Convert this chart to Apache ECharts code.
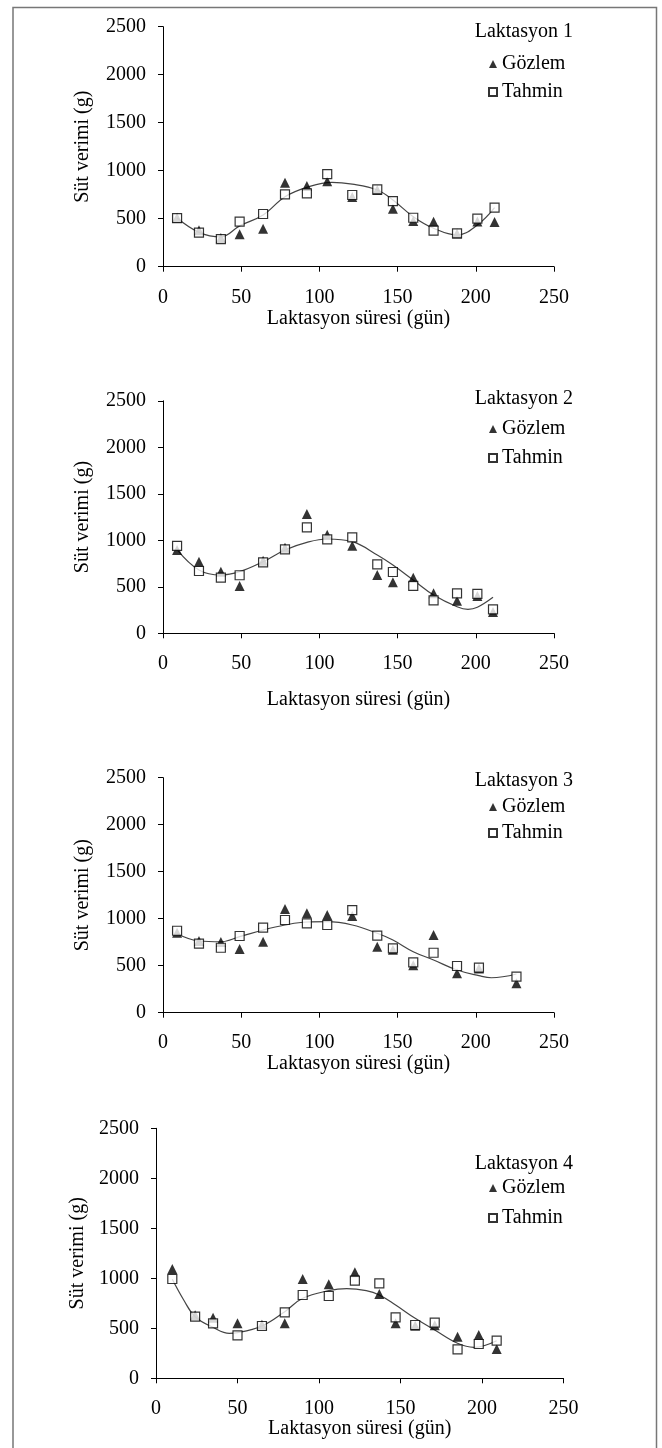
<!DOCTYPE html>
<html>
<head>
<meta charset="utf-8">
<script src="https://cdn.jsdelivr.net/npm/echarts@6/dist/echarts.min.js"></script>
<style>
html,body{margin:0;padding:0;background:#fff;}
#c{width:662px;height:1448px;}
</style>
</head>
<body>
<div id="c"></div>
<script>
// ---- data ----
const panelTitles = ['Laktasyon 1', 'Laktasyon 2', 'Laktasyon 3', 'Laktasyon 4'];
const seriesNames = ['Gözlem', 'Tahmin'];

const days1 = [9, 23, 37, 49, 64, 78, 92, 105, 121, 137, 147, 160, 173, 188, 201, 212];
const obs1  = [510, 380, 300, 337, 396, 875, 840, 890, 725, 800, 604, 476, 469, 345, 470, 465];
const pred1 = [507, 354, 288, 469, 549, 754, 764, 965, 747, 806, 684, 510, 375, 348, 500, 615];
const curveX1 = [9, 23, 37, 49, 64, 78, 92, 108, 121, 137, 147, 160, 173, 188, 201, 212];
const curveY1 = [507, 358, 310, 425, 538, 729, 827, 879, 860, 799, 695, 521, 400, 330, 434, 615];

const days2 = [9, 23, 37, 49, 64, 78, 92, 105, 121, 137, 147, 160, 173, 188, 201, 211];
const obs2  = [896, 770, 663, 509, 780, 920, 1283, 1060, 942, 627, 548, 598, 430, 351, 400, 230];
const pred2 = [939, 670, 598, 624, 763, 903, 1140, 1011, 1032, 742, 659, 509, 355, 430, 423, 258];
const curveX2 = [9, 23, 37, 49, 64, 78, 92, 105, 121, 137, 147, 160, 173, 188, 195, 201, 211];
const curveY2 = [900, 681, 627, 663, 770, 896, 978, 1014, 985, 842, 734, 573, 412, 286, 258, 280, 387];

const days3 = [9, 23, 37, 49, 64, 78, 92, 105, 121, 137, 147, 160, 173, 188, 202, 226];
const obs3  = [850, 763, 752, 678, 755, 1103, 1057, 1039, 1030, 702, 670, 505, 827, 420, 470, 313];
const pred3 = [872, 734, 691, 816, 904, 986, 951, 933, 1092, 819, 685, 536, 638, 497, 479, 383];
const curveX3 = [9, 23, 37, 49, 64, 78, 92, 105, 121, 137, 147, 160, 173, 188, 202, 210, 226];
const curveY3 = [840, 763, 755, 809, 880, 933, 965, 968, 933, 845, 773, 649, 561, 454, 394, 372, 412];

const days4 = [10, 24, 35, 50, 65, 79, 90, 106, 122, 137, 147, 159, 171, 185, 198, 209];
const obs4  = [1093, 630, 606, 550, 535, 550, 993, 940, 1060, 843, 550, 525, 530, 416, 433, 293];
const pred4 = [993, 616, 550, 430, 523, 660, 833, 823, 976, 950, 610, 533, 556, 290, 343, 376];
const curveX4 = [10, 17, 24, 35, 45, 50, 65, 79, 90, 106, 117, 129, 137, 147, 159, 171, 185, 195, 209];
const curveY4 = [990, 783, 616, 510, 450, 456, 523, 666, 800, 876, 896, 876, 833, 733, 600, 483, 350, 310, 376];

const xTickMax = 250, xTickStep = 50;
const yTickMax = 2500, yTickStep = 500;
const xAxisTitle = 'Laktasyon süresi (gün)';
const yAxisTitle = 'Süt verimi (g)';

// ---- layout ----
const FONT = '"Liberation Serif", "Times New Roman", serif';
const FS = 20;
const grids = [
  {left: 163, top: 26.7, width: 391, height: 240},
  {left: 163, top: 400.8, width: 391, height: 232.5},
  {left: 163, top: 777.7, width: 391, height: 235},
  {left: 156, top: 1128.3, width: 407.5, height: 250}
];
const titleTops = [22, 389, 771, 1154];
const legendTops = [54, 419, 797, 1178];
const legendGaps = [8, 9, 6, 10];
const xLabelMargins = [21, 20, 20, 20];
const xNameGaps = [41, 56, 39, 40];
const yNameGaps = [70, 70, 70, 67];

const panels = [
  {days: days1, obs: obs1, pred: pred1, cx: curveX1, cy: curveY1},
  {days: days2, obs: obs2, pred: pred2, cx: curveX2, cy: curveY2},
  {days: days3, obs: obs3, pred: pred3, cx: curveX3, cy: curveY3},
  {days: days4, obs: obs4, pred: pred4, cx: curveX4, cy: curveY4}
];

const zip = (a, b) => a.map((v, i) => [v, b[i]]);

const textBase = {color: '#000', fontFamily: FONT, fontSize: FS};
const option = {
  backgroundColor: '#fff',
  animation: false,
  grid: grids,
  title: panelTitles.map((t, i) => ({
    text: t, right: 89, top: titleTops[i], padding: 0,
    textStyle: {color: '#000', fontFamily: FONT, fontSize: FS, fontWeight: 'normal'}
  })),
  legend: panels.map((p, i) => ({
    data: [
      {name: seriesNames[0], icon: 'triangle'},
      {name: seriesNames[1], icon: 'rect'}
    ],
    orient: 'vertical', left: 488, top: legendTops[i], padding: 0,
    itemWidth: 8, itemHeight: 8, itemGap: legendGaps[i],
    selectedMode: false,
    textStyle: {...textBase, padding: [0, 0, 0, 0]}
  })),
  xAxis: grids.map((g, i) => ({
    type: 'value', gridIndex: i, min: 0, max: xTickMax, interval: xTickStep,
    name: xAxisTitle, nameLocation: 'middle', nameGap: xNameGaps[i],
    nameTextStyle: textBase,
    axisLine: {show: true, onZero: false, lineStyle: {color: '#000', width: 1}},
    axisTick: {show: true, length: 5, lineStyle: {color: '#000'}},
    axisLabel: {...textBase, margin: xLabelMargins[i], formatter: v => String(v)},
    splitLine: {show: false}
  })),
  yAxis: grids.map((g, i) => ({
    type: 'value', gridIndex: i, min: 0, max: yTickMax, interval: yTickStep,
    name: yAxisTitle, nameLocation: 'middle', nameGap: yNameGaps[i], nameRotate: 90,
    nameTextStyle: textBase,
    axisLine: {show: true, onZero: false, lineStyle: {color: '#000', width: 1}},
    axisTick: {show: true, length: 5, lineStyle: {color: '#000'}},
    axisLabel: {...textBase, margin: 17, formatter: v => String(v)},
    splitLine: {show: false}
  })),
  graphic: [{
    type: 'rect', silent: true,
    shape: {x: 13, y: 7.5, width: 643.5, height: 1460},
    style: {fill: 'none', stroke: '#777', lineWidth: 1.5}
  }],
  series: []
};

panels.forEach((p, i) => {
  option.series.push({
    type: 'line', name: 'curve' + (i + 1), xAxisIndex: i, yAxisIndex: i,
    data: zip(p.cx, p.cy), smooth: 0.4, showSymbol: false, symbol: 'none',
    lineStyle: {color: '#444', width: 1.2}, z: 1, silent: true
  });
  option.series.push({
    type: 'scatter', name: seriesNames[0], xAxisIndex: i, yAxisIndex: i,
    data: zip(p.days, p.obs), symbol: 'triangle', symbolSize: 10,
    itemStyle: {color: '#000'}, z: 2
  });
  option.series.push({
    type: 'scatter', name: seriesNames[1], xAxisIndex: i, yAxisIndex: i,
    data: zip(p.days, p.pred), symbol: 'rect', symbolSize: 9,
    itemStyle: {color: '#fff', borderColor: '#000', borderWidth: 1.2}, z: 3
  });
});

const chart = echarts.init(document.getElementById('c'), null, {renderer: 'canvas'});
chart.setOption(option);
</script>
</body>
</html>
